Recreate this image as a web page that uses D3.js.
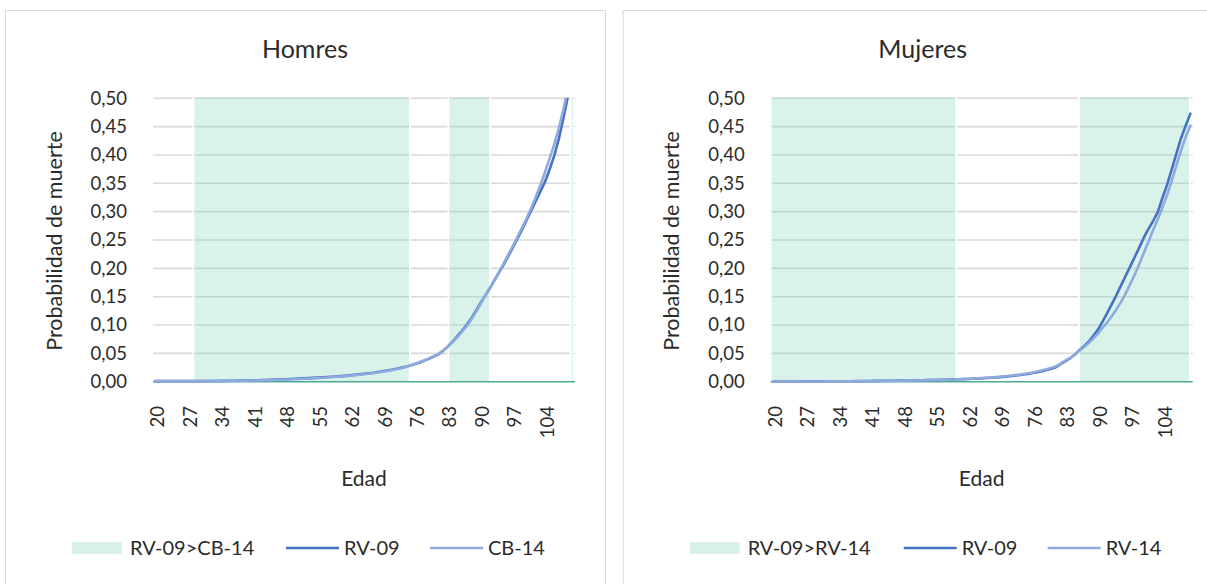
<!DOCTYPE html>
<html><head><meta charset="utf-8">
<script src="https://cdn.jsdelivr.net/npm/d3@7/dist/d3.min.js"></script>
<style>
body{margin:0;background:#fff}
svg{display:block}
text{font-family:Lato,"Open Sans",sans-serif;fill:#2b2b2b}
</style>
</head><body>
<svg id="c" width="1207" height="584"></svg>
<script>
// ---------- DATA ----------
const ages = [20,21,22,23,24,25,26,27,28,29,30,31,32,33,34,35,36,37,38,39,40,41,42,43,44,45,46,47,48,49,
50,51,52,53,54,55,56,57,58,59,60,61,62,63,64,65,66,67,68,69,70,71,72,73,74,75,76,77,78,79,
80,81,82,83,84,85,86,87,88,89,90,91,92,93,94,95,96,97,98,99,100,101,102,103,104,105,106,107,108,109,110];

const menRV09 = [.0011,.0010,.0010,.0010,.0010,.0010,.0010,.0010,.0010,.0011,
.0011,.0012,.0013,.0013,.0014,.0015,.0016,.0017,.0019,.0020,
.0022,.0024,.0026,.0028,.0031,.0034,.0037,.0040,.0044,.0048,
.0052,.0056,.0060,.0064,.0068,.0072,.0077,.0082,.0087,.0093,
.0099,.0106,.0113,.0121,.0129,.0138,.0148,.0158,.0170,.0182,
.0196,.0211,.0227,.0245,.0264,.0284,.0310,.0340,.0372,.0406,
.0442,.0482,.0540,.0615,.0700,.0790,.0885,.0985,.1100,.1230,
.1370,.1500,.1630,.1770,.1910,.2050,.2200,.2350,.2510,.2670,
.2840,.3010,.3180,.3350,.3520,.3740,.3980,.4280,.4650,.5050,.5700];

const menCB14 = [.0012,.0011,.0011,.0011,.0011,.0011,.0011,.0011,.0011,.0010,
.0010,.0011,.0011,.0012,.0013,.0013,.0014,.0015,.0016,.0017,
.0019,.0020,.0022,.0024,.0026,.0028,.0031,.0034,.0037,.0040,
.0043,.0047,.0051,.0055,.0059,.0064,.0069,.0074,.0080,.0086,
.0092,.0099,.0106,.0114,.0122,.0131,.0141,.0151,.0163,.0175,
.0189,.0204,.0220,.0238,.0258,.0288,.0316,.0346,.0378,.0412,
.0450,.0492,.0545,.0618,.0690,.0775,.0868,.0965,.1080,.1210,
.1350,.1495,.1625,.1780,.1925,.2070,.2225,.2380,.2540,.2705,
.2870,.3050,.3250,.3460,.3690,.3930,.4180,.4470,.4800,.5200,.5600];

const womenRV09 = [.0004,.0004,.0004,.0004,.0004,.0004,.0004,.0005,.0005,.0005,
.0005,.0006,.0006,.0007,.0007,.0008,.0008,.0009,.0010,.0011,
.0012,.0013,.0014,.0015,.0016,.0017,.0018,.0019,.0020,.0021,
.0023,.0024,.0026,.0027,.0029,.0031,.0033,.0035,.0037,.0040,
.0042,.0045,.0048,.0051,.0055,.0059,.0064,.0069,.0075,.0081,
.0088,.0096,.0105,.0115,.0126,.0138,.0152,.0168,.0186,.0206,
.0229,.0256,.0310,.0360,.0410,.0470,.0550,.0620,.0700,.0800,
.0910,.1050,.1200,.1360,.1520,.1690,.1860,.2030,.2200,.2370,
.2550,.2700,.2840,.3000,.3250,.3480,.3750,.4030,.4300,.4520,.4730];

const womenRV14 = [.0003,.0003,.0003,.0003,.0003,.0003,.0003,.0003,.0004,.0004,
.0004,.0004,.0005,.0005,.0005,.0006,.0006,.0007,.0007,.0008,
.0009,.0010,.0011,.0012,.0013,.0014,.0015,.0016,.0017,.0019,
.0020,.0022,.0023,.0025,.0027,.0029,.0031,.0033,.0035,.0038,
.0043,.0046,.0050,.0054,.0058,.0063,.0068,.0074,.0080,.0087,
.0095,.0104,.0113,.0124,.0136,.0149,.0164,.0181,.0200,.0221,
.0244,.0271,.0320,.0370,.0415,.0475,.0540,.0605,.0675,.0755,
.0845,.0945,.1040,.1150,.1270,.1400,.1550,.1720,.1890,.2080,
.2280,.2480,.2680,.2870,.3080,.3300,.3550,.3820,.4080,.4320,.4520];

// shaded age ranges where the first series exceeds the second
const shadeMen = [[28.2,74.9],[83.2,92.2],[109.6,110.0]];
const shadeWomen = [[19.5,59.5],[86.0,109.9]];

const yTicks = [0,0.05,0.10,0.15,0.20,0.25,0.30,0.35,0.40,0.45,0.50];
const xTickAges = [20,27,34,41,48,55,62,69,76,83,90,97,104];

const titles = ["Homres","Mujeres"];
const shadeLabels = ["RV-09>CB-14","RV-09>RV-14"];
const series1Labels = ["RV-09","RV-09"];
const series2Labels = ["CB-14","RV-14"];

// ---------- STYLE ----------
const C_DARK = "#4472C4", C_LIGHT = "#8FAADC", C_SHADE = "rgb(128,212,185)", C_SHADE_LEG = "#D8F2EA";
const C_GRID = "#D9D9D9", C_AXIS = "#4DA996";

const locale = d3.formatLocale({decimal:",",thousands:".",grouping:[3],currency:["","€"]});
const fmt = locale.format(".2f");

const svg = d3.select("#c");

function panel(idx, px, s1, s2, shades){
  const L = px + 148, R = px + 570, T = 98.3, B = 381.7;
  const g = svg.append("g");
  g.append("rect").attr("x",px+0.5).attr("y",10.5).attr("width",600).attr("height",600)
    .attr("fill","#fff").attr("stroke",C_GRID).attr("stroke-width",1);

  const x = d3.scaleLinear().domain([19.5,110.5]).range([L,R]);
  const y = d3.scaleLinear().domain([0,0.5]).range([B,T]);

  // title
  g.append("text").attr("x",px+300).attr("y",58).attr("text-anchor","middle")
    .style("font-size","25px").text(titles[idx]);

  // gridlines
  g.selectAll(".grid").data(yTicks.filter(d=>d>0)).join("line")
    .attr("x1",L).attr("x2",R).attr("y1",d=>y(d)).attr("y2",d=>y(d))
    .attr("stroke",C_GRID).attr("stroke-width",1.6);

  // white separators at shade edges
  shades.forEach(s=>{
    [s[0],s[1]].forEach(a=>{
      g.append("line").attr("x1",x(a)).attr("x2",x(a)).attr("y1",y(0.5)-1).attr("y2",y(0))
        .attr("stroke","#fff").attr("stroke-width",2);
    });
  });
  // shaded areas
  g.selectAll(".shade").data(shades).join("rect")
    .attr("x",d=>x(d[0])+1).attr("width",d=>Math.max(1.2,x(d[1])-x(d[0])-2))
    .attr("y",y(0.5)-0.8).attr("height",y(0)-y(0.5)+0.8)
    .attr("fill",C_SHADE).attr("fill-opacity",0.3);

  // axis line
  g.append("line").attr("x1",L).attr("x2",R).attr("y1",y(0)).attr("y2",y(0))
    .attr("stroke",C_AXIS).attr("stroke-width",1.6);

  // y tick labels
  g.selectAll(".yt").data(yTicks).join("text")
    .attr("x",L-26).attr("y",d=>y(d)).attr("dy","0.35em").attr("text-anchor","end")
    .style("font-size","18.5px").text(d=>fmt(d));

  // x tick labels
  g.selectAll(".xt").data(xTickAges).join("text")
    .attr("transform",d=>`translate(${x(d)+2.5},406) rotate(-90)`)
    .attr("dy","0.35em").attr("text-anchor","end")
    .style("font-size","18.5px").text(d=>d);

  // axis titles
  g.append("text").attr("transform",`translate(${L-99},241) rotate(-90)`)
    .attr("dy","0.35em").attr("text-anchor","middle").style("font-size","21.5px")
    .text("Probabilidad de muerte");
  g.append("text").attr("x",(L+R)/2).attr("y",479).attr("dy","0.35em").attr("text-anchor","middle")
    .style("font-size","21px").text("Edad");

  // lines
  const clipId = "clip"+idx;
  svg.append("clipPath").attr("id",clipId).append("rect")
    .attr("x",L-5).attr("y",T-0.5).attr("width",R-L+10).attr("height",B-T+10);
  const line = d3.line().x((d,i)=>x(ages[i])).y(d=>y(d));
  const lg = g.append("g").attr("clip-path",`url(#${clipId})`);
  lg.append("path").datum(s1).attr("d",line).attr("fill","none")
    .attr("stroke",C_DARK).attr("stroke-width",2.6).attr("stroke-linejoin","round").attr("stroke-linecap","round");
  lg.append("path").datum(s2).attr("d",line).attr("fill","none")
    .attr("stroke",C_LIGHT).attr("stroke-width",2.6).attr("stroke-linejoin","round").attr("stroke-linecap","round");

  // legend
  const ly = 548;
  g.append("rect").attr("x",px+67).attr("y",ly-6).attr("width",50).attr("height",12).attr("fill",C_SHADE_LEG);
  g.append("text").attr("x",px+125).attr("y",ly).attr("dy","0.35em").style("font-size","20px").text(shadeLabels[idx]);
  g.append("line").attr("x1",px+281).attr("x2",px+334).attr("y1",ly).attr("y2",ly)
    .attr("stroke",C_DARK).attr("stroke-width",2.6);
  g.append("text").attr("x",px+339).attr("y",ly).attr("dy","0.35em").style("font-size","20px").text(series1Labels[idx]);
  g.append("line").attr("x1",px+425).attr("x2",px+478).attr("y1",ly).attr("y2",ly)
    .attr("stroke",C_LIGHT).attr("stroke-width",2.6);
  g.append("text").attr("x",px+483).attr("y",ly).attr("dy","0.35em").style("font-size","20px").text(series2Labels[idx]);
}

panel(0, 5, menRV09, menCB14, shadeMen);
panel(1, 622.7, womenRV09, womenRV14, shadeWomen);
</script>
</body></html>
